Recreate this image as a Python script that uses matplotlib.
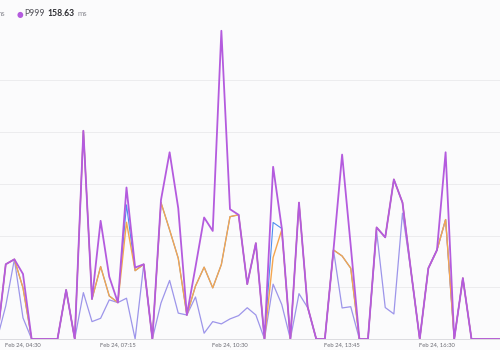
import matplotlib
matplotlib.use("Agg")
import matplotlib.pyplot as plt
import matplotlib.dates as mdates
import pandas as pd

# 15 minute buckets, Feb 24 03:45 -> 18:30
times = pd.date_range("2024-02-24 03:45", periods=60, freq="15min")

# latency in ms
p50 = [0, 16.0, 38.5, 10.2, 0, 0, 0, 0, 23.7, 0,
       22.4, 8.4, 10.0, 18.9, 17.6, 19.7, 0, 36.1, 0, 17.4,
       28.3, 12.5, 11.6, 20.3, 2.8, 8.4, 7.3, 9.7, 11.3, 15.1,
       11.6, 0, 26.5, 16.7, 0, 21.9, 15.2, 0, 0, 43.0,
       15.0, 15.6, 0, 0, 52.0, 15.2, 12.1, 60.8, 32.4, 0,
       34.2, 43.0, 57.7, 0, 29.4, 0, 0, 0, 0, 0]
p95 = [0, 36.1, 38.5, 24.7, 0, 0, 0, 0, 23.7, 0,
       100.6, 19.3, 35.0, 20.8, 17.6, 56.4, 33.0, 36.1, 0, 65.9,
       52.7, 39.0, 11.6, 25.6, 34.7, 24.7, 36.0, 59.1, 60.0, 26.5,
       46.3, 0, 39.4, 52.7, 0, 65.9, 15.6, 0, 0, 43.0,
       40.1, 34.2, 0, 0, 53.9, 49.1, 77.1, 65.9, 32.4, 0,
       34.2, 43.0, 57.7, 0, 29.4, 0, 0, 0, 0, 0]
p99 = [0, 36.1, 38.5, 24.7, 0, 0, 0, 0, 23.7, 0,
       100.6, 19.3, 35.0, 20.8, 17.6, 64.8, 33.0, 36.1, 0, 65.9,
       52.7, 39.0, 11.6, 25.6, 34.7, 24.7, 36.0, 59.1, 60.0, 26.5,
       46.3, 0, 56.3, 53.4, 0, 65.9, 15.6, 0, 0, 43.0,
       40.1, 34.2, 0, 0, 53.9, 49.1, 77.1, 65.9, 32.4, 0,
       34.2, 43.0, 57.7, 0, 29.4, 0, 0, 0, 0, 0]
p999 = [0, 36.1, 38.5, 31.4, 0, 0, 0, 0, 23.7, 0,
        100.6, 19.3, 57.1, 30.1, 17.6, 73.2, 34.5, 36.1, 0, 67.2,
        90.2, 63.2, 11.6, 34.8, 58.7, 52.2, 148.9, 62.7, 60.0, 26.5,
        46.3, 0, 83.2, 53.7, 0, 65.9, 15.6, 0, 0, 43.0,
        89.1, 45.0, 0, 0, 53.9, 49.1, 77.1, 65.9, 32.4, 0,
        34.2, 43.0, 90.2, 0, 29.4, 0, 0, 0, 0, 0]

tick_times = pd.to_datetime(["2024-02-24 04:30", "2024-02-24 07:15", "2024-02-24 10:30",
                             "2024-02-24 13:45", "2024-02-24 16:30"])

bg = "#fbfbfc"
fig = plt.figure(figsize=(5, 3.5), dpi=100, facecolor=bg)
ax = fig.add_axes([0, 11 / 350, 1, 1 - 39.5 / 350], facecolor=bg)

ax.plot(times, p99, color="#4f8ef0", lw=0.8)
ax.plot(times, p50, color="#9d95ea", lw=0.9)
ax.plot(times, p95, color="#f4a650", lw=1.0)
ax.plot(times, p999, color="#b45bde", lw=1.3)

ax.set_xlim(pd.Timestamp("2024-02-24 03:50"), pd.Timestamp("2024-02-24 18:19:36"))
ax.set_ylim(0, 150)
ax.set_yticks([0, 25, 50, 75, 100, 125, 150])
ax.grid(axis="y", color="#ececee", lw=0.7)
ax.set_axisbelow(True)
for s in ["top", "right", "left"]:
    ax.spines[s].set_visible(False)
ax.spines["bottom"].set_color("#dcdce0")
ax.spines["bottom"].set_linewidth(0.7)
ax.tick_params(axis="y", left=False, labelleft=False)
ax.tick_params(axis="x", length=0, pad=2, labelsize=4.2, labelcolor="#6b6b73")
ax.set_xticks(tick_times)
ax.xaxis.set_major_formatter(mdates.DateFormatter("Feb 24, %H:%M"))
for lbl in ax.get_xticklabels():
    lbl.set_family("Lato")

# legend strip (only the last entry fits in this crop)
ly = 1 - 14 / 350
fig.text(5 / 500, ly, "ms", ha="right", va="center", fontsize=5.6, color="#8a8a92", family="Lato")
fig.text(20 / 500, ly, "\u25cf", ha="center", va="center", fontsize=5.5, color="#b45bde")

# chain the pieces so they sit next to each other
renderer = fig.canvas.get_renderer()
x = 24
pieces = [("P999", "#55555c", "normal", 6.2, 3),
          ("158.63", "#2e2e33", "bold", 6.2, 3),
          ("ms", "#8a8a92", "normal", 5.6, 0)]
for txt, col, wt, fs, gap in pieces:
    t = fig.text(x / 500, ly, txt, ha="left", va="center", fontsize=fs, color=col,
                 family="Lato", weight=wt)
    x += t.get_window_extent(renderer).width + gap

fig.savefig("out.png", dpi=100, facecolor=bg)
